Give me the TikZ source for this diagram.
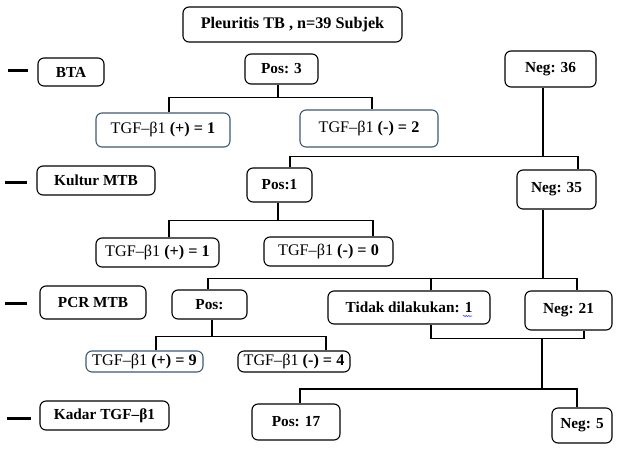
\documentclass[tikz,border=0pt]{standalone}
\usepackage{fontspec}
\setmainfont{Liberation Serif}
\usetikzlibrary{decorations.pathmorphing}
\definecolor{bluegray}{RGB}{62,88,118}
\begin{document}
\begin{tikzpicture}[x=1pt,y=-1pt,
  box/.style={draw=black, line width=1.1pt, rounded corners=6pt, inner sep=0pt, align=center, font=\fontsize{15.3}{17}\selectfont\bfseries},
  tbox/.style={box, font=\fontsize{16.2}{18}\selectfont},
  bbox/.style={tbox, draw=bluegray},
  conn/.style={line width=1.2pt},
  dashmark/.style={line width=3pt}]
\useasboundingbox (0,0) rectangle (624,448);

% nodes
\node[box, minimum width=219, minimum height=35, font=\fontsize{16.2}{18}\selectfont\bfseries] (title) at (292.5,24.5) {Pleuritis TB , n=39 Subjek};
\node[box, minimum width=66, minimum height=28] (bta) at (71,72) {BTA};
\node[box, minimum width=73, minimum height=30] (pos3) at (281.5,69) {Pos: 3};
\node[box, minimum width=91, minimum height=36] (neg36) at (550.5,69) {Neg: 36};
\node[bbox, minimum width=134, minimum height=34] (tp1) at (163,130) {TGF–β1 \textbf{(+) = 1}};
\node[bbox, minimum width=138, minimum height=37] (tm2) at (369,128.5) {TGF–β1 \textbf{(-) = 2}};

\node[box, minimum width=118, minimum height=29] (kultur) at (96,180.5) {Kultur MTB};
\node[box, minimum width=65, minimum height=34] (pos1) at (279.5,185) {Pos:1};
\node[box, minimum width=79, minimum height=39] (neg35) at (556.5,189.5) {Neg: 35};
\node[tbox, minimum width=123, minimum height=29] (tp1b) at (157.5,252.5) {TGF–β1 \textbf{(+) = 1}};
\node[tbox, minimum width=129, minimum height=29] (tm0) at (328.5,251.5) {TGF–β1 \textbf{(-) = 0}};

\node[box, minimum width=106, minimum height=33] (pcr) at (93,302.5) {PCR MTB};
\node[box, minimum width=75, minimum height=29] (posp) at (209.5,304.5) {Pos:};
\node[box, minimum width=162, minimum height=33] (tidak) at (409,307.5) {Tidak dilakukan: 1};
\node[box, minimum width=87, minimum height=39] (neg21) at (568.5,310.5) {Neg: 21};
\node[bbox, minimum width=117, minimum height=21] (tp9) at (144.5,361.5) {TGF–β1 \textbf{(+) = 9}};
\node[tbox, minimum width=112, minimum height=21] (tm4) at (294,361.5) {TGF–β1 \textbf{(-) = 4}};

\node[box, minimum width=129, minimum height=29] (kadar) at (104.5,415.5) {Kadar TGF–β1};
\node[box, minimum width=88, minimum height=36] (pos17) at (296,422) {Pos: 17};
\node[box, minimum width=60, minimum height=35] (neg5) at (582,425.5) {Neg: 5};

% side marks
\draw[dashmark] (8,70) -- (28,70);
\draw[dashmark] (5,182) -- (27,182);
\draw[dashmark] (5,303) -- (27,303);
\draw[dashmark] (7,418) -- (31,418);

% spell-check underline
\draw[blue!70, line width=0.6pt, decorate, decoration={snake, amplitude=0.6pt, segment length=2.5pt}] (463,316) -- (472,316);

% connectors
\draw[conn] ([xshift=-3.5]pos3.south) -- ++(0,13) coordinate (a1);
\draw[conn] ([xshift=6]tp1.north) |- (a1) -| ([xshift=3]tm2.north);

\draw[conn] ([xshift=-7.5]neg36.south) -- ++(0,69) coordinate (b1);
\draw[conn] ([xshift=10.5]pos1.north) |- (b1) -| ([xshift=21.5]neg35.north);

\draw[conn] ([xshift=-1.5]pos1.south) -- ++(0,18) coordinate (c1);
\draw[conn] ([xshift=11.5]tp1b.north) |- (c1) -| ([xshift=44.5]tm0.north);

\draw[conn] ([xshift=-13.5]neg35.south) -- ++(0,69) coordinate (d1);
\draw[conn] ([xshift=-1.5]posp.north) |- (d1) -| ([xshift=8.5]neg21.north);
\draw[conn] ([xshift=22]tidak.north) -- ([xshift=22]tidak.north |- d1);

\draw[conn] ([xshift=2.5]posp.south) -- ++(0,17) coordinate (e1);
\draw[conn] ([xshift=11.5]tp9.north) |- (e1) -| ([xshift=32]tm4.north);

\draw[conn] ([xshift=22]tidak.south) -- ++(0,14) coordinate (f0) -| ([xshift=15.5]neg21.south);
\coordinate (f1) at (542,338);
\coordinate (f2) at (542,389);
\draw[conn] (f1) -- (f2);
\draw[conn] ([xshift=4]pos17.north) |- (f2) -| ([xshift=-5]neg5.north);
\end{tikzpicture}
\end{document}
